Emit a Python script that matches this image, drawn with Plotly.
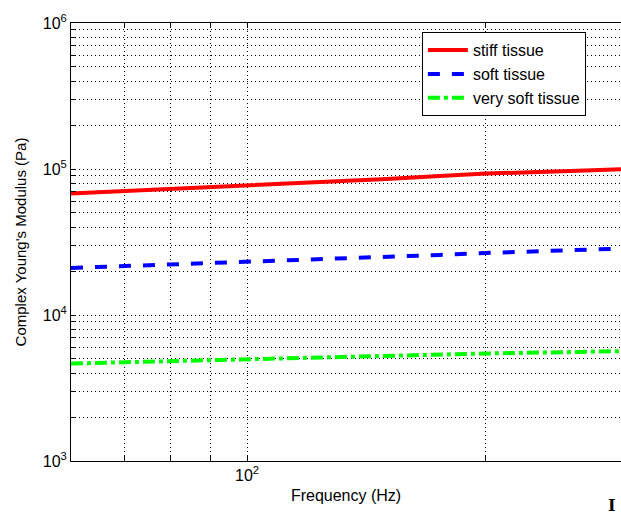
import plotly.graph_objects as go

freq = [60, 70, 80, 90, 100, 125, 150, 175, 200, 250, 296]
stiff = [68000, 70500, 73000, 75300, 77300, 81500, 85500, 89500, 93000, 96500, 99600]
soft = [21000, 21600, 22200, 22700, 23100, 24100, 25000, 25800, 26600, 27600, 28500]
very_soft = [4650, 4750, 4850, 4920, 4970, 5120, 5250, 5350, 5450, 5560, 5660]

x_grid = [70, 80, 90, 100, 200]
x_text = ["", "", "", "10<sup>2</sup>", ""]
y_grid = [m * 10 ** e for e in range(3, 6) for m in range(1, 10)] + [10 ** 6]
y_text = [("10<sup>%d</sup>" % e if m == 1 else "") for e in range(3, 6) for m in range(1, 10)] + ["10<sup>6</sup>"]

fig = go.Figure()
fig.add_trace(go.Scatter(x=freq, y=stiff, mode="lines", name="stiff tissue",
                         line=dict(color="#ff0000", width=4)))
fig.add_trace(go.Scatter(x=freq, y=soft, mode="lines", name="soft tissue",
                         line=dict(color="#0000ff", width=4, dash="dash")))
fig.add_trace(go.Scatter(x=freq, y=very_soft, mode="lines", name="very soft tissue",
                         line=dict(color="#00ff00", width=4, dash="dashdot")))

font = "Liberation Sans, Arial, sans-serif"
dots = "1px,3px"
fig.update_layout(
    width=621, height=518,
    margin=dict(l=71, r=0, t=23, b=57),
    paper_bgcolor="white", plot_bgcolor="white",
    font=dict(family=font, size=15, color="black"),
    showlegend=True,
    legend=dict(x=0.638, y=0.979, xanchor="left", yanchor="top",
                bgcolor="white", bordercolor="black", borderwidth=1,
                font=dict(size=16), tracegroupgap=0, itemwidth=40),
    xaxis=dict(type="log", range=[1.77815, 2.4713], tickvals=x_grid, ticktext=x_text,
               showgrid=True, gridcolor="black", griddash=dots, gridwidth=1,
               showline=True, linecolor="black", mirror="ticks", linewidth=1,
               ticks="inside", ticklen=5, tickcolor="black", zeroline=False,
               title=dict(text="Frequency (Hz)", font=dict(size=16), standoff=6),
               tickfont=dict(size=16)),
    yaxis=dict(type="log", range=[3, 6], tickvals=y_grid, ticktext=y_text,
               showgrid=True, gridcolor="black", griddash=dots, gridwidth=1,
               showline=True, linecolor="black", mirror=False, linewidth=1,
               ticks="inside", ticklen=5, tickcolor="black", zeroline=False,
               title=dict(text="Complex Young's Modulus (Pa)", font=dict(size=15), standoff=12),
               tickfont=dict(size=16)),
)
fig.add_annotation(text="<b>I</b>", x=1.0, y=0, xref="paper", yref="paper",
                   xanchor="right", yanchor="top", yshift=-33, xshift=-4, showarrow=False,
                   font=dict(family="DejaVu Serif, serif", size=16, color="black"))

fig.write_html("out.html")
